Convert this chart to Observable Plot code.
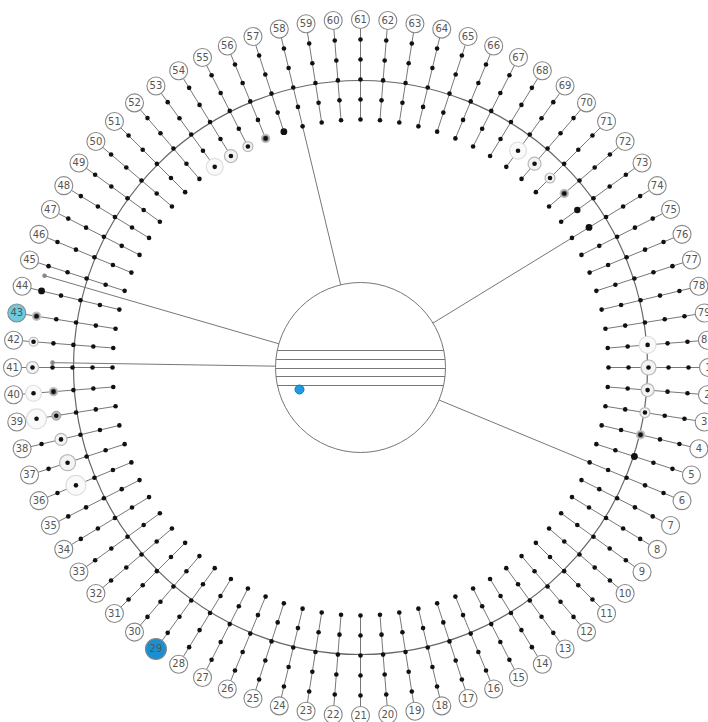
<!DOCTYPE html>
<html>
<head>
<meta charset="utf-8">
<script src="https://cdn.jsdelivr.net/npm/d3@7"></script>
<script src="https://cdn.jsdelivr.net/npm/@observablehq/plot@0.6"></script>
<style>
  html, body { margin: 0; padding: 0; background: #fff; }
  #chart svg { display: block; }
</style>
</head>
<body>
<div id="chart"></div>
<script>
// ---- data ----
const spokeIds = d3.range(1, 81);               // 80 numbered spokes, clockwise from the right
const stepDeg = 360 / 80;
const dotRadii = [248, 268, 288, 308, 328];      // five dots on every spoke
const spokeInner = 248;
const spokeOuter = 339;
const labelRadius = 348;
const ringRadius = 287;
const hubRadius = 85;

// long lines running from a spoke into the hub
const hubLinks = [
  {spoke: 58, from: 248, end: false},
  {spoke: 74, from: 248, end: false},
  {spoke: 6, from: 248, end: false},
  {spoke: 44.6, from: 329, end: true},
  {spoke: 41.2, from: 308, end: true}
];

// horizontal chords across the hub (offset from hub centre)
const chordOffsets = [-17, -8, 1, 9, 18];

// blue marker inside the hub
const hubMarker = [{dx: -61, dy: 22}];

// highlighted dots: spoke, radius, kind, size
const highlights = [
  {spoke: 44, r: 328, kind: "big", size: 3.4},
  {spoke: 43, r: 328, kind: "grey", size: 4},
  {spoke: 42, r: 328, kind: "ring", size: 4.5},
  {spoke: 41, r: 328, kind: "ring", size: 6},
  {spoke: 40, r: 328, kind: "faint", size: 8},
  {spoke: 39, r: 328, kind: "faint", size: 10},
  {spoke: 40, r: 308, kind: "grey", size: 4},
  {spoke: 39, r: 308, kind: "greyring", size: 4.5},
  {spoke: 38, r: 308, kind: "ring", size: 6},
  {spoke: 37, r: 308, kind: "ring", size: 8},
  {spoke: 36, r: 308, kind: "faint", size: 10},
  {spoke: 57, r: 248, kind: "big", size: 3.4},
  {spoke: 56, r: 248, kind: "grey", size: 4},
  {spoke: 55, r: 248, kind: "ring", size: 5},
  {spoke: 54, r: 248, kind: "ring", size: 6.5},
  {spoke: 53, r: 248, kind: "faint", size: 8.5},
  {spoke: 74, r: 268, kind: "big", size: 3.4},
  {spoke: 73, r: 268, kind: "big", size: 3.2},
  {spoke: 72, r: 268, kind: "grey", size: 4},
  {spoke: 71, r: 268, kind: "ring", size: 5},
  {spoke: 70, r: 268, kind: "ring", size: 6.5},
  {spoke: 69, r: 268, kind: "faint", size: 8.5},
  {spoke: 5, r: 288, kind: "big", size: 3.4},
  {spoke: 4, r: 288, kind: "grey", size: 4},
  {spoke: 3, r: 288, kind: "ring", size: 5},
  {spoke: 2, r: 288, kind: "ring", size: 6.5},
  {spoke: 1, r: 288, kind: "ring", size: 7.5},
  {spoke: 80, r: 288, kind: "faint", size: 8.5}
];

// coloured labels
const labelFill = {43: "#6dcbe0", 29: "#1a90d2"};
const labelSize = {29: 10.5};

// ---- geometry helpers ----
const ang = s => (s - 1) * stepDeg * Math.PI / 180;
const px = (s, r) => r * Math.cos(ang(s));
const py = (s, r) => r * Math.sin(ang(s));

const dots = spokeIds.flatMap(s => dotRadii.map(r => ({spoke: s, r})));
const chords = chordOffsets.map(o => ({o, half: Math.sqrt(hubRadius * hubRadius - o * o)}));
const labels = spokeIds.map(s => ({spoke: s, fill: labelFill[s] || "white", size: labelSize[s] || 9}));

const chart = Plot.plot({
  width: 708,
  height: 722,
  margin: 0,
  x: {domain: [-360, 348], range: [0, 708], axis: null},
  y: {domain: [-367, 355], range: [0, 722], axis: null},
  r: {type: "identity"},
  marks: [
    // ring and hub
    Plot.dot([0], {x: () => 0, y: () => 0, r: ringRadius, fill: "none", stroke: "#666", strokeWidth: 1.2}),
    Plot.dot([0], {x: () => 0, y: () => 0, r: hubRadius, fill: "white", stroke: "#777", strokeWidth: 1}),
    Plot.link(chords, {x1: d => -d.half, x2: d => d.half, y1: d => d.o, y2: d => d.o, stroke: "#777", strokeWidth: 1.1}),
    // spokes
    Plot.link(spokeIds, {
      x1: s => px(s, spokeInner), y1: s => py(s, spokeInner),
      x2: s => px(s, spokeOuter), y2: s => py(s, spokeOuter),
      stroke: "#777", strokeWidth: 1
    }),
    // long lines to the hub
    Plot.link(hubLinks, {
      x1: d => px(d.spoke, d.from), y1: d => py(d.spoke, d.from),
      x2: d => px(d.spoke, hubRadius), y2: d => py(d.spoke, hubRadius),
      stroke: "#777", strokeWidth: 1
    }),
    Plot.dot(hubLinks.filter(d => d.end), {
      x: d => px(d.spoke, d.from), y: d => py(d.spoke, d.from), r: 2.3, fill: "#888"
    }),
    // highlight halos
    Plot.dot(highlights.filter(d => d.kind === "faint"), {
      x: d => px(d.spoke, d.r), y: d => py(d.spoke, d.r), r: d => d.size,
      fill: "#fafafa", stroke: "#dedede", strokeWidth: 1.2
    }),
    Plot.dot(highlights.filter(d => d.kind === "ring"), {
      x: d => px(d.spoke, d.r), y: d => py(d.spoke, d.r), r: d => d.size,
      fill: "#f4f4f4", stroke: "#b8b8b8", strokeWidth: 1.2
    }),
    Plot.dot(highlights.filter(d => d.kind === "greyring"), {
      x: d => px(d.spoke, d.r), y: d => py(d.spoke, d.r), r: d => d.size,
      fill: "#bbb", stroke: "#999", strokeWidth: 1
    }),
    Plot.dot(highlights.filter(d => d.kind === "grey"), {
      x: d => px(d.spoke, d.r), y: d => py(d.spoke, d.r), r: d => d.size,
      fill: "#8a8a8a", stroke: "#c4c4c4", strokeWidth: 1.5
    }),
    // spoke dots
    Plot.dot(dots, {x: d => px(d.spoke, d.r), y: d => py(d.spoke, d.r), r: 2.3, fill: "#111"}),
    Plot.dot(highlights.filter(d => d.kind === "big"), {
      x: d => px(d.spoke, d.r), y: d => py(d.spoke, d.r), r: d => d.size, fill: "#111"
    }),
    // hub marker
    Plot.dot(hubMarker, {x: "dx", y: "dy", r: 4.5, fill: "#1e9be3", stroke: "#1577b3", strokeWidth: 1}),
    // labels
    Plot.dot(labels, {
      x: d => px(d.spoke, labelRadius), y: d => py(d.spoke, labelRadius),
      r: d => d.size, fill: d => d.fill, stroke: "#888", strokeWidth: 1.1
    }),
    Plot.text(labels, {
      x: d => px(d.spoke, labelRadius), y: d => py(d.spoke, labelRadius),
      text: d => String(d.spoke), fontSize: 10, fill: "#555",
      fontFamily: "DejaVu Sans, sans-serif"
    })
  ]
});
document.getElementById("chart").appendChild(chart);
</script>
</body>
</html>
